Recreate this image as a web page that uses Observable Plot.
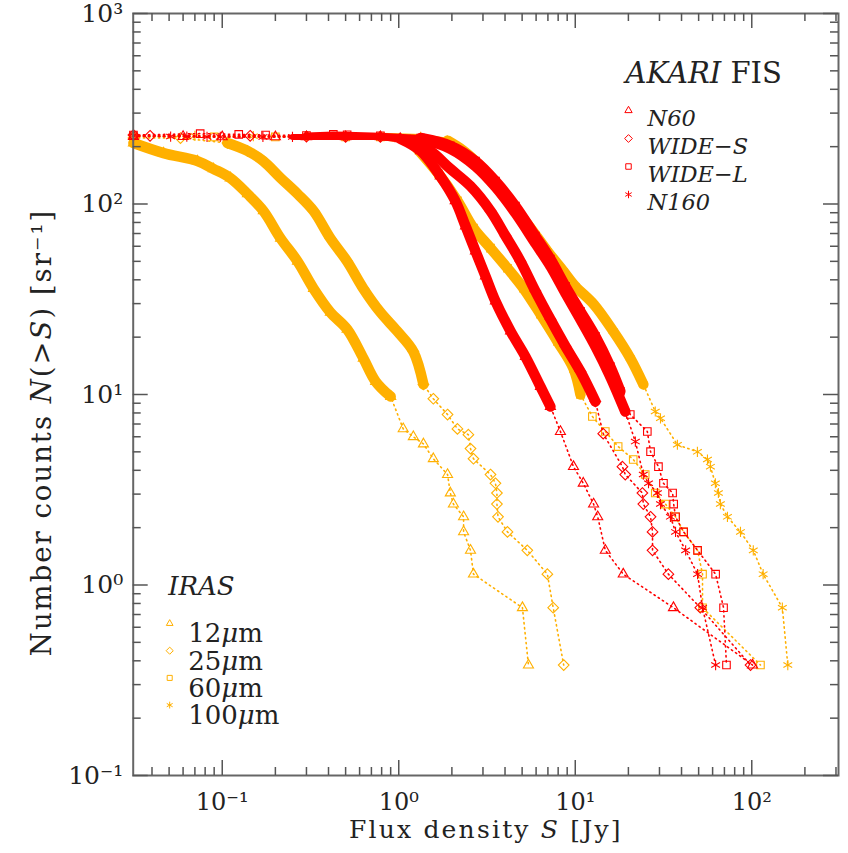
<!DOCTYPE html>
<html><head><meta charset="utf-8">
<script src="https://cdn.jsdelivr.net/npm/d3@7"></script>
<script src="https://cdn.jsdelivr.net/npm/@observablehq/plot@0.6"></script>
<style>body{margin:0;background:#fff}svg{display:block}</style>
</head><body><div id="chart"></div>
<script>
// ---------- data ----------
const iras12S = [0.0314,0.0465,0.0724,0.089,0.111,0.139,0.171,0.214,0.267,0.329,0.41,0.51,0.63,0.74,0.90,1.06,1.21,1.38,1.57,1.89,1.96,2.04,2.33,2.33,2.55,2.65,5.02,5.43];
const iras12N = [209,185,168,153,137,113,92,66,50,36,27,22,15.5,11.7,9.75,6.6,6.0,5.5,4.6,3.8,3.04,2.66,2.28,1.90,1.52,1.14,0.76,0.38];

const iras25S = [0.0314,0.058,0.107,0.139,0.171,0.214,0.267,0.329,0.41,0.51,0.63,0.787,0.98,1.21,1.38,1.57,1.89,2.15,2.48,2.55,2.65,3.31,3.53,3.6,3.6,3.65,4.13,5.35,6.95,7.5,8.6];
const iras25N = [222,222,209,190,168,137,113,92,66,50,36,27,21.5,16.8,11.3,9.5,7.85,6.6,6.15,5.2,4.6,3.8,3.42,3.04,2.66,2.28,1.90,1.52,1.14,0.76,0.38];

const iras60S = [0.0314,0.09,0.2,0.5,0.787,1.16,1.68,2.15,2.65,3.31,4.13,5.09,6.35,7.93,9.77,10.7,12.5,14.8,17.5,21.3,24.9,28.4,32.4,37.0,41.1,49.3,52.6,52.6,112];
const iras60N = [225,225,225,225,225,215,144,104,74.8,58.7,46.0,36.1,26.4,19.0,13.7,10.0,7.66,6.39,5.33,4.56,3.8,3.04,2.66,2.28,1.90,1.52,1.14,0.76,0.38];

const iras100S = [0.0314,0.07,0.15,0.3,0.787,1.33,1.89,2.33,2.90,3.62,4.46,5.57,6.95,8.57,10.0,12.7,16.4,20.5,24.3,28.4,30.4,37.9,49.2,56.1,58.3,62.2,64.7,66.4,72.8,86.3,102,116,149,160];
const iras100N = [228,228,227,227,228,225,215,190,158,124,97.5,75,56.6,44.4,37,29.8,21.5,15.5,11.3,8.14,7.5,5.45,5.0,4.56,4.18,3.42,3.04,2.66,2.28,1.90,1.52,1.14,0.76,0.38];

const n60S = [0.0314,0.06,0.1,0.2,0.3,0.5,0.787,1.02,1.33,1.72,2.09,2.39,2.72,3.10,3.53,4.30,5.22,6.35,7.23,8.24,9.77,11.1,12.7,13.4,14.8,18.7,36.0,101];
const n60N = [226,226,225,225,225,225,225,220,190,140,104,76.6,56.6,41.8,30.9,21.5,15.8,11.0,8.65,6.39,4.18,3.42,2.66,2.28,1.52,1.14,0.76,0.38];

const wideSS = [0.0314,0.039,0.144,0.3,0.5,0.787,1.16,1.51,1.96,2.55,3.31,4.03,4.89,5.94,7.23,8.80,10.7,13.0,14.4,18.5,19.2,24.0,24.3,26.7,27.4,27.4,33.7,51.1,98.4];
const wideSN = [230,228,228,226,225,225,215,190,153,124,91.9,67.9,50.1,34.9,24.8,17.9,13.2,9.19,6.23,4.18,3.8,3.04,2.66,2.28,1.90,1.52,1.14,0.76,0.38];

const wideLS = [0.0314,0.075,0.124,0.176,0.3,0.426,0.51,0.787,1.33,1.96,2.72,3.53,4.58,5.94,7.23,8.80,10.7,13.0,15.8,18.0,20.5,25.6,26.7,29.6,31.6,35.6,36.1,37.0,41.1,49.3,62.4,69.2,71.9];
const wideLN = [230,234,232,230,229,232,231,228,222,202,168,132,97.6,67.9,51.4,37.0,27.3,20.2,14.0,10.4,7.85,6.39,5.01,4.18,3.42,3.04,2.66,2.28,1.90,1.52,1.14,0.76,0.38];

const n160S = [0.0314,0.051,0.063,0.082,0.0975,0.17,0.25,0.5,0.787,1.33,1.96,2.72,3.53,4.58,5.94,7.23,8.80,10.7,13.0,15.8,19.2,21.9,24.3,26.0,29.2,30.4,34.6,37.0,42.2,49.3,52.6,62.4];
const n160N = [228,226,226,225,225,225,225,225,225,220,195,158,123,89.7,62.3,47.2,34.0,24.8,17.9,12.4,8.14,5.66,3.8,3.42,3.04,2.66,2.28,1.90,1.52,1.14,0.76,0.38];

const xMajor = [0.1, 1, 10, 100];
const yMajor = [0.1, 1, 10, 100, 1000];
const irasLabels = ["12μm", "25μm", "60μm", "100μm"];
const akariLabels = ["N60", "WIDE−S", "WIDE−L", "N160"];

// ---------- styling ----------
const ORANGE = "#ffb000", RED = "#ff0000";
const series = [
  {S: iras12S, N: iras12N, color: ORANGE, symbol: "triangle2", bandFrom: 0, bandTo: 9},
  {S: iras25S, N: iras25N, color: ORANGE, symbol: "diamond2", bandFrom: 0.1, bandTo: 11},
  {S: iras60S, N: iras60N, color: ORANGE, symbol: "square2", bandFrom: 0.5, bandTo: 9},
  {S: iras100S, N: iras100N, color: ORANGE, symbol: "asterisk", bandFrom: 0.5, bandTo: 10},
  {S: n60S, N: n60N, color: RED, symbol: "triangle2", bandFrom: 0.25, bandTo: 8},
  {S: wideSS, N: wideSN, color: RED, symbol: "diamond2", bandFrom: 0.25, bandTo: 9},
  {S: wideLS, N: wideLN, color: RED, symbol: "square2", bandFrom: 0.25, bandTo: 9},
  {S: n160S, N: n160N, color: RED, symbol: "asterisk", bandFrom: 0.25, bandTo: 8}
];

const W = 848, H = 853, mL = 132.7, mR = 10, mT = 13, mB = 78;
const fW = W - mL - mR, fH = H - mT - mB;
const xDomain = [0.0313, 310], yDomain = [0.1, 1000];

function minorTicks(lo, hi) {
  const out = [];
  for (let e = Math.floor(Math.log10(lo)); e <= Math.ceil(Math.log10(hi)); e++)
    for (let m = 2; m <= 9; m++) { const v = m * Math.pow(10, e); if (v > lo && v < hi) out.push(v); }
  return out;
}
const xMinor = minorTicks(xDomain[0], xDomain[1]);
const yMinor = minorTicks(yDomain[0], yDomain[1]);

const sup = {"-":"⁻","0":"⁰","1":"¹","2":"²","3":"³","4":"⁴","5":"⁵","6":"⁶","7":"⁷","8":"⁸","9":"⁹"};
const fmtPow = d => "10" + String(Math.round(Math.log10(d))).split("").map(c => sup[c]).join("");

const seriesMarks = series.flatMap(s => {
  const rows = s.S.map((S, i) => ({S, N: s.N[i]}));
  const band = rows.filter(d => d.S >= s.bandFrom && d.N >= s.bandTo);
  let k = 0;
  band.forEach((d, i) => { if (d.N >= 215) k = i; });
  const flat = band.slice(0, k + 1);
  const steep = band.slice(k);
  return [
    Plot.line(rows, {x: "S", y: "N", stroke: s.color, strokeWidth: 1.6, strokeDasharray: "1.3,3.7", strokeLinecap: "round"}),
    Plot.line(flat, {x: "S", y: "N", stroke: s.color, strokeWidth: 6, strokeLinecap: "round", strokeLinejoin: "round"}),
    Plot.line(steep, {x: "S", y: "N", stroke: s.color, strokeWidth: 10.5, strokeLinecap: "round", strokeLinejoin: "round", curve: "catmull-rom"}),
    Plot.dot(rows, {x: "S", y: "N", symbol: s.symbol, r: 4.8, stroke: s.color, strokeWidth: 1.1, fill: "none"})
  ];
});

const tickStyle = {stroke: "#555", strokeWidth: 1.5};
const legendMarks = [];
legendMarks.push(Plot.text(["AKARI FIS"], {frameAnchor: "top-right", dx: -213, dy: 48.5, textAnchor: "start", fontSize: 29, text: d => d}));
akariLabels.forEach((lab, i) => {
  legendMarks.push(Plot.dot([lab], {frameAnchor: "top-right", dx: -210, dy: 97 + 28 * i, symbol: series[4 + i].symbol, r: 3.5, stroke: RED, strokeWidth: 1, fill: "none"}));
  legendMarks.push(Plot.text([lab], {frameAnchor: "top-right", dx: -191, dy: 96.5 + 28 * i, textAnchor: "start", fontSize: 22.5, fontStyle: "italic", text: d => d}));
});
legendMarks.push(Plot.text(["IRAS"], {frameAnchor: "top-left", dx: 35, dy: 563, textAnchor: "start", fontSize: 26, fontStyle: "italic", text: d => d}));
irasLabels.forEach((lab, i) => {
  legendMarks.push(Plot.dot([lab], {frameAnchor: "top-left", dx: 36.5, dy: 610 + 27.2 * i, symbol: series[i].symbol, r: 3.2, stroke: ORANGE, strokeWidth: 1, fill: "none"}));
  legendMarks.push(Plot.text([lab], {frameAnchor: "top-left", dx: 55, dy: 610.5 + 27.2 * i, textAnchor: "start", fontSize: 26, text: d => d}));
});

const chart = Plot.plot({
  width: W, height: H, marginLeft: mL, marginRight: mR, marginTop: mT, marginBottom: mB,
  x: {type: "log", domain: xDomain, axis: null, label: null},
  y: {type: "log", domain: yDomain, axis: null, label: null},
  style: {fontFamily: "'DejaVu Serif', serif", fontSize: "25px", color: "#222", background: "#fff"},
  marks: [
    ...seriesMarks,
    Plot.frame({stroke: "#666", strokeWidth: 2}),
    Plot.tickX(xMajor, {x: d => d, insetTop: fH - 15, ...tickStyle}),
    Plot.tickX(xMinor, {x: d => d, insetTop: fH - 8, ...tickStyle}),
    Plot.tickX(xMajor, {x: d => d, insetBottom: fH - 15, ...tickStyle}),
    Plot.tickX(xMinor, {x: d => d, insetBottom: fH - 8, ...tickStyle}),
    Plot.tickY(yMajor, {y: d => d, insetRight: fW - 15, ...tickStyle}),
    Plot.tickY(yMinor, {y: d => d, insetRight: fW - 8, ...tickStyle}),
    Plot.tickY(yMajor, {y: d => d, insetLeft: fW - 15, ...tickStyle}),
    Plot.tickY(yMinor, {y: d => d, insetLeft: fW - 8, ...tickStyle}),
    Plot.axisX(xMajor, {anchor: "bottom", tickSize: 0, tickPadding: 17, tickFormat: fmtPow, label: null, fontSize: 24}),
    Plot.axisY(yMajor, {anchor: "left", tickSize: 0, tickPadding: 10, tickFormat: fmtPow, label: null, fontSize: 25}),
    Plot.text(["Flux density S [Jy]"], {frameAnchor: "bottom", dy: 62, fontSize: 25, text: d => d}),
    Plot.text(["Number counts N(>S) [sr⁻¹]"], {frameAnchor: "left", textAnchor: "middle", dx: -91, dy: 38, rotate: -90, fontSize: 27.5, text: d => d}),
    ...legendMarks
  ]
});

const rich = {
  "Flux density S [Jy]": 'Flux density <tspan font-style="italic">S</tspan> [Jy]',
  "Number counts N(>S) [sr⁻¹]": 'Number counts <tspan font-style="italic">N</tspan>(&gt;<tspan font-style="italic">S</tspan>) [sr⁻¹]',
  "AKARI FIS": '<tspan font-style="italic">AKARI</tspan> FIS',
  "12μm": '12<tspan font-style="italic">μ</tspan>m',
  "25μm": '25<tspan font-style="italic">μ</tspan>m',
  "60μm": '60<tspan font-style="italic">μ</tspan>m',
  "100μm": '100<tspan font-style="italic">μ</tspan>m'
};
const spacing = {"Flux density S [Jy]": "2.2px", "Number counts N(>S) [sr⁻¹]": "2px"};
chart.querySelectorAll("text").forEach(t => {
  const k = t.textContent;
  if (spacing[k]) t.setAttribute("letter-spacing", spacing[k]);
  if (rich[k] && t.children.length === 0) t.innerHTML = rich[k];
});
document.getElementById("chart").appendChild(chart);
</script>
</body></html>
